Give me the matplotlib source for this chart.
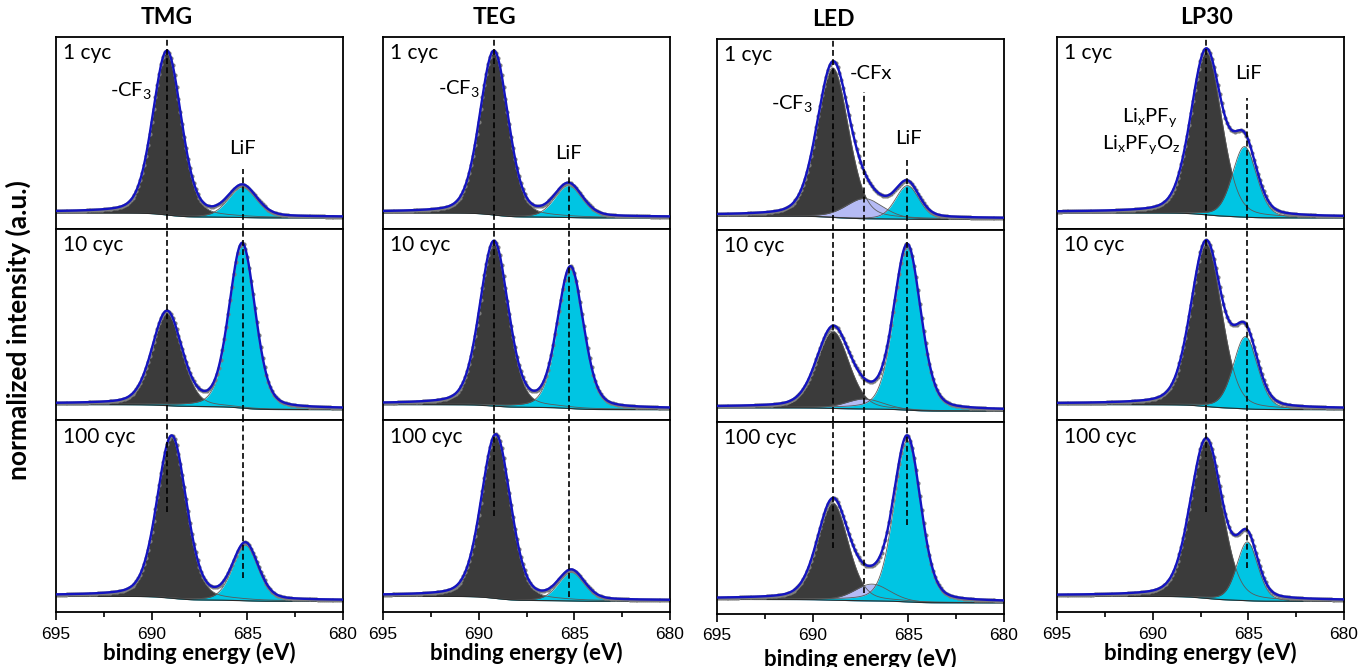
import numpy as np
import matplotlib
matplotlib.use('Agg')
import matplotlib.pyplot as plt
from matplotlib.ticker import MultipleLocator

plt.rcParams['font.family'] = ['Lato', 'DejaVu Sans']
plt.rcParams['mathtext.fontset'] = 'custom'
plt.rcParams['mathtext.rm'] = 'Lato'
plt.rcParams['mathtext.it'] = 'Lato:italic'

samples = ['TMG', 'TEG', 'LED', 'LP30']
cycles = ['1 cyc', '10 cyc', '100 cyc']

# fitted F 1s components, one list per cycle: (centre eV, height, fwhm eV)
# order of components: main (-CF3 / LixPFy), -CFx (LED only), LiF
tmg_peaks = [
    [(689.2, 0.97, 1.75), (685.25, 0.18, 1.75)],
    [(689.2, 0.55, 1.83), (685.27, 0.97, 1.60)],
    [(688.95, 0.96, 1.80), (685.1, 0.33, 1.57)],
]
teg_peaks = [
    [(689.2, 0.97, 1.75), (685.3, 0.19, 1.70)],
    [(689.2, 0.97, 1.75), (685.2, 0.83, 1.60)],
    [(689.1, 0.97, 1.80), (685.15, 0.17, 1.60)],
]
led_peaks = [
    [(688.95, 0.89, 1.95), (687.3, 0.12, 2.30), (685.05, 0.20, 1.45)],
    [(688.95, 0.46, 2.00), (687.3, 0.06, 2.30), (685.05, 0.97, 1.65)],
    [(688.95, 0.58, 1.90), (686.9, 0.10, 2.20), (685.05, 0.96, 1.65)],
]
lp30_peaks = [
    [(687.2, 0.97, 1.90), (685.2, 0.42, 1.50)],
    [(687.2, 0.97, 1.90), (685.15, 0.43, 1.50)],
    [(687.2, 0.94, 1.95), (685.05, 0.35, 1.30)],
]
all_peaks = [tmg_peaks, teg_peaks, led_peaks, lp30_peaks]

# Shirley step height of the background (high BE side above low BE side)
bg_step = [[0.03, 0.03, 0.03], [0.03, 0.03, 0.03],
           [0.02, 0.02, 0.02], [0.03, 0.03, 0.03]]

fill_colors = {
    2: ['#3b3b3b', '#00c5e3'],
    3: ['#3b3b3b', '#b5bbf5', '#00c5e3'],
}

# dashed reference lines: position (eV)
ref_lines = [
    [689.2, 685.25],
    [689.2, 685.3],
    [688.93, 687.32, 685.05],
    [687.2, 685.05],
]
# extent of each dashed line: (start row, frac, end row, frac)
ref_extent = [
    [(0, 1.0, 2, 0.52), (0, 0.31, 2, 0.18)],
    [(0, 1.0, 2, 0.50), (0, 0.31, 2, 0.08)],
    [(0, 0.99, 2, 0.34), (0, 0.72, 2, 0.11), (0, 0.38, 2, 0.46)],
    [(0, 1.0, 2, 0.52), (0, 0.68, 2, 0.23)],
]

# peak labels in the top panel: (text, x eV, y frac, ha)
peak_labels = [
    [(r'-CF$_\mathregular{3}$', 689.97, 0.72, 'right'), ('LiF', 685.25, 0.42, 'center')],
    [(r'-CF$_\mathregular{3}$', 689.93, 0.73, 'right'), ('LiF', 685.3, 0.39, 'center')],
    [(r'-CF$_\mathregular{3}$', 689.98, 0.66, 'right'), ('-CFx', 686.94, 0.82, 'center'),
     ('LiF', 685.0, 0.48, 'center')],
    [(r'Li$_\mathregular{x}$PF$_\mathregular{y}$', 688.67, 0.58, 'right'),
     (r'Li$_\mathregular{x}$PF$_\mathregular{y}$O$_\mathregular{z}$', 688.56, 0.44, 'right'),
     ('LiF', 685.0, 0.81, 'center')],
]


def pseudo_voigt(x, centre, height, fwhm, eta=0.25):
    d = 4 * (x - centre) ** 2 / fwhm ** 2
    return height * (eta / (1 + d) + (1 - eta) * np.exp(-np.log(2) * d))


def panel_model(x, peaks, step):
    comps = [pseudo_voigt(x, *p) for p in peaks]
    total = np.sum(comps, axis=0)
    # x ascending, so cumulative area runs from low to high BE
    bg = step * np.cumsum(total) / total.sum()
    return comps, bg, bg + total


energy = np.arange(680, 695.001, 0.02)
energy_pts = np.arange(680, 695.001, 0.1)

W, H = 1358, 667
fig = plt.figure(figsize=(W / 100, H / 100), dpi=100)

col_left = [56, 383, 717, 1057]
col_top = [37, 37, 38.5, 37]
ax_w, ax_h = 287, 191.7

for c, name in enumerate(samples):
    axes = []
    for r in range(3):
        top = col_top[c] + r * ax_h
        ax = fig.add_axes([col_left[c] / W, (H - top - ax_h) / H, ax_w / W, ax_h / H])
        axes.append(ax)
        peaks = all_peaks[c][r]
        comps, bg, env = panel_model(energy, peaks, bg_step[c][r])
        _, _, env_pts = panel_model(energy_pts, peaks, bg_step[c][r])
        colors = fill_colors[len(peaks)]
        for comp, col in zip(comps, colors):
            ax.fill_between(energy, bg, bg + comp, color=col, lw=0, zorder=2)
            ax.plot(energy, bg + comp, color='#5a5a5a', lw=0.6, zorder=2.1)
        ax.plot(energy, bg, color='#2a2a2a', lw=0.8, zorder=2.2)
        ax.plot(energy, env, color='#b0b0b0', lw=1.0, zorder=2.3)
        ax.plot(energy_pts, env_pts + 0.004, 'o', ms=3.0, color='#7d7d7d',
                mec='none', zorder=2.4)
        ax.plot(energy, env + 0.006, color='#1414c0', lw=1.7, zorder=3)

        ax.set_xlim(695, 680)
        ax.set_ylim(-0.064, 1.077)
        ax.set_yticks([])
        for sp in ax.spines.values():
            sp.set_linewidth(1.3)
        ax.text(0.025, 0.915, cycles[r], transform=ax.transAxes, fontsize=15,
                ha='left', va='center')
        if r < 2:
            ax.tick_params(axis='x', which='both', bottom=False, labelbottom=False)
        else:
            ax.set_xticks([695, 690, 685, 680])
            ax.xaxis.set_minor_locator(MultipleLocator(2.5))
            ax.tick_params(axis='x', which='major', direction='out', length=6,
                           width=1.2, pad=4.5, labelsize=12.5)
            ax.tick_params(axis='x', which='minor', direction='out', length=3.5,
                           width=1.2)
            for lab in ax.get_xticklabels():
                lab.set_fontfamily('Liberation Sans')
            ylab = -0.235 if name == 'LED' else -0.215
            ax.text(0.5, ylab, 'binding energy (eV)', transform=ax.transAxes,
                    fontsize=16, fontweight='bold', ha='center', va='center')

    # dashed peak position lines running down through the column
    for pos, (r0, f0, r1, f1) in zip(ref_lines[c], ref_extent[c]):
        for r in range(r0, r1 + 1):
            y_hi = f0 if r == r0 else 1.0
            y_lo = f1 if r == r1 else 0.0
            axes[r].plot([pos, pos], [y_lo, y_hi], transform=axes[r].get_xaxis_transform(),
                         color='black', lw=1.2, ls=(0, (3.5, 2)), zorder=4, clip_on=False)

    for text, x, y, ha in peak_labels[c]:
        axes[0].text(x, y, text, transform=axes[0].get_xaxis_transform(), fontsize=14.5,
                     ha=ha, va='center', zorder=5)

    axes[0].text(ref_lines[c][0], 1.1, name, transform=axes[0].get_xaxis_transform(),
                 fontsize=16.5, fontweight='bold', ha='center', va='center')

fig.text(18 / W, (H - 330) / H, 'normalized intensity (a.u.)', rotation=90,
         fontsize=19, fontweight='bold', ha='center', va='center')

fig.savefig('out.png', dpi=100)
